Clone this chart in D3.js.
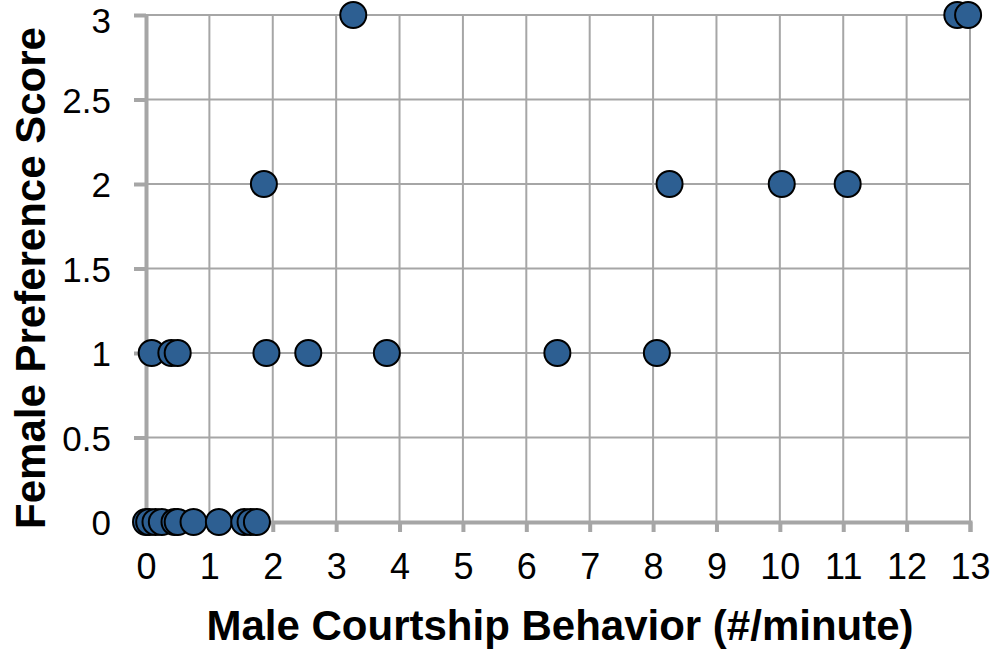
<!DOCTYPE html>
<html>
<head>
<meta charset="utf-8">
<script src="https://cdn.jsdelivr.net/npm/d3@7"></script>
<style>
  body { margin: 0; background: #fff; }
  text { font-family: "Liberation Sans", Arial, sans-serif; fill: #000; }
</style>
</head>
<body>
<div id="chart"></div>
<script>
// Courtship rate vs preference score

const courtship = [0, 0.05, 0.15, 0.25, 0.45, 0.5, 0.75, 1.15, 1.55, 1.65, 1.75,
  0.09, 0.4, 0.5, 1.9, 2.56, 3.8, 6.49, 8.06,
  1.86, 8.26, 10.03, 11.07,
  3.27, 12.8, 12.97];
const preference = [0, 0, 0, 0, 0, 0, 0, 0, 0, 0, 0,
  1, 1, 1, 1, 1, 1, 1, 1,
  2, 2, 2, 2,
  3, 3, 3];
const xTicks = [0, 1, 2, 3, 4, 5, 6, 7, 8, 9, 10, 11, 12, 13];
const yTicks = [0, 0.5, 1, 1.5, 2, 2.5, 3];

const width = 997;
const height = 651;
const margin = { top: 15, right: 27, bottom: 129, left: 146 };

const svg = d3.select('#chart').append('svg')
  .attr('width', width)
  .attr('height', height);

const x = d3.scaleLinear().domain([0, 13]).range([margin.left, width - margin.right]);
const y = d3.scaleLinear().domain([0, 3]).range([height - margin.bottom, margin.top]);

const gridColor = '#a6a6a6';

// grid lines
svg.append('g')
  .selectAll('line')
  .data(xTicks.slice(1))
  .enter()
  .append('line')
  .attr('x1', d => x(d)).attr('x2', d => x(d))
  .attr('y1', y(3)).attr('y2', y(0))
  .attr('stroke', gridColor).attr('stroke-width', 2);

svg.append('g')
  .selectAll('line')
  .data(yTicks.slice(1))
  .enter()
  .append('line')
  .attr('x1', x(0)).attr('x2', x(13))
  .attr('y1', d => y(d)).attr('y2', d => y(d))
  .attr('stroke', gridColor).attr('stroke-width', 2);

// axes
const xAxis = d3.axisBottom(x).tickValues(xTicks).tickSize(10).tickSizeOuter(10).tickPadding(21);
const yAxis = d3.axisLeft(y).tickValues(yTicks).tickFormat(d3.format('')).tickSize(12).tickSizeOuter(0).tickPadding(23);

const xg = svg.append('g')
  .attr('transform', `translate(0, ${y(0)})`)
  .call(xAxis);
const yg = svg.append('g')
  .attr('transform', `translate(${x(0)}, 0)`)
  .call(yAxis);

[xg, yg].forEach(g => {
  g.select('.domain').attr('stroke', gridColor).attr('stroke-width', 4);
  g.selectAll('.tick line').attr('stroke', gridColor).attr('stroke-width', 4);
  g.selectAll('.tick text').attr('fill', '#000');
});
xg.selectAll('.tick text').style('font-size', '36px').attr('dy', '0.71em');
// top label is nudged down so it stays inside the page
yg.selectAll('.tick text').style('font-size', '35px').attr('dy', '0.36em')
  .attr('y', d => (d === 3 ? 5 : 0));

// points
svg.append('g')
  .selectAll('circle')
  .data(courtship)
  .enter()
  .append('circle')
  .attr('cx', d => x(d))
  .attr('cy', (d, i) => y(preference[i]))
  .attr('r', 13)
  .attr('fill', '#2d5f92')
  .attr('stroke', '#000')
  .attr('stroke-width', 2);

// axis titles
svg.append('text')
  .attr('x', 560)
  .attr('y', 640)
  .attr('text-anchor', 'middle')
  .style('font-size', '42px')
  .style('font-weight', 'bold')
  .text('Male Courtship Behavior (#/minute)');

svg.append('text')
  .attr('transform', 'translate(45, 278) rotate(-90)')
  .attr('text-anchor', 'middle')
  .style('font-size', '42px')
  .style('font-weight', 'bold')
  .text('Female Preference Score');
</script>
</body>
</html>
